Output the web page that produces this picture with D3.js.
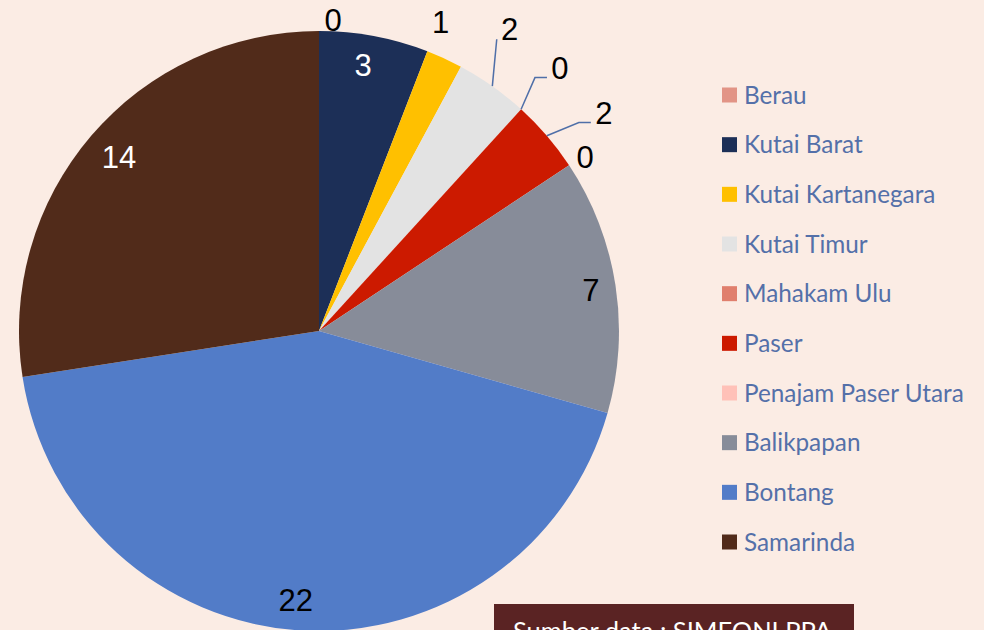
<!DOCTYPE html>
<html>
<head>
<meta charset="utf-8">
<script src="https://cdn.jsdelivr.net/npm/d3@7"></script>
<style>
  html, body { margin: 0; padding: 0; background: #fbece4; }
  svg { display: block; }
</style>
</head>
<body>
<div id="chart"></div>
<script>
// data
const regions = ["Berau", "Kutai Barat", "Kutai Kartanegara", "Kutai Timur", "Mahakam Ulu",
  "Paser", "Penajam Paser Utara", "Balikpapan", "Bontang", "Samarinda"];
const cases = [0, 3, 1, 2, 0, 2, 0, 7, 22, 14];
const colors = ["#e29486", "#1c2f57", "#ffc000", "#e3e3e3", "#e07f6d",
  "#cc1a00", "#ffc1b8", "#878c99", "#527cc8", "#512b1a"];
const sourceText = "Sumber data : SIMFONI PPA";

const width = 984, height = 630;
const cx = 319, cy = 331, R = 300;

// label placement (radius, angle nudge in degrees), inside labels white
const labelLayout = [
  { r: 311, da: 2.6, fill: "#000" },
  { r: 270, da: -1.2, fill: "#fff" },
  { r: 332, da: -3.2, fill: "#000" },
  { r: 357, da: -3, fill: "#000", leader: "straight" },
  { r: 357, da: 0.1, fill: "#000", leader: "elbow" },
  { r: 359, da: 3.1, fill: "#000", leader: "elbow" },
  { r: 318, da: 0.3, fill: "#000" },
  { r: 275, da: 0.2, fill: "#000" },
  { r: 270, da: 1.4, fill: "#000" },
  { r: 265, da: 0.4, fill: "#fff" }
];

const svg = d3.select("#chart").append("svg")
  .attr("width", width)
  .attr("height", height);

svg.append("rect").attr("width", width).attr("height", height).attr("fill", "#fbece4");

const pie = d3.pie().sort(null).value(d => d)(cases);
const arc = d3.arc().innerRadius(0).outerRadius(R);

const g = svg.append("g").attr("transform", `translate(${cx},${cy})`);

g.selectAll("path.slice")
  .data(pie)
  .join("path")
  .attr("class", "slice")
  .attr("d", arc)
  .attr("fill", (d, i) => colors[i]);

const polar = (r, a) => [r * Math.sin(a), -r * Math.cos(a)];

// leader lines
pie.forEach((d, i) => {
  const lay = labelLayout[i];
  if (!lay.leader) return;
  const mid = (d.startAngle + d.endAngle) / 2;
  const start = polar(R, mid);
  const lp = polar(lay.r, mid + lay.da * Math.PI / 180);
  const end = [lp[0] - 13, lp[1] + 10];
  const pts = lay.leader === "elbow" ? [start, [end[0] - 12, end[1]], end] : [start, end];
  g.append("path")
    .attr("d", d3.line()(pts))
    .attr("fill", "none")
    .attr("stroke", "#4f6fa8")
    .attr("stroke-width", 1.5);
});

// value labels
g.selectAll("text.val")
  .data(pie)
  .join("text")
  .attr("class", "val")
  .attr("transform", (d, i) => {
    const lay = labelLayout[i];
    const mid = (d.startAngle + d.endAngle) / 2;
    const p = polar(lay.r, mid + lay.da * Math.PI / 180);
    return `translate(${p[0]},${p[1]})`;
  })
  .attr("text-anchor", "middle")
  .attr("dy", "0.36em")
  .attr("fill", (d, i) => labelLayout[i].fill)
  .style("font-family", "'Liberation Sans', Arial, sans-serif")
  .style("font-size", "31px")
  .text(d => d.data);

// legend
const legendY = d3.scalePoint().domain(regions).range([95, 542]);
const legend = svg.append("g").selectAll("g")
  .data(regions)
  .join("g")
  .attr("transform", d => `translate(722,${legendY(d)})`);

legend.append("rect")
  .attr("x", 0).attr("y", -7.5)
  .attr("width", 15).attr("height", 15)
  .attr("fill", (d, i) => colors[i]);

legend.append("text")
  .attr("x", 22)
  .attr("dy", "0.36em")
  .attr("fill", "#5470a9")
  .style("font-family", "Lato, 'Open Sans', sans-serif")
  .style("font-size", "24.3px")
  .text(d => d);

// source box
svg.append("rect")
  .attr("x", 494).attr("y", 604)
  .attr("width", 360).attr("height", 40)
  .attr("fill", "#5a2323");

svg.append("text")
  .attr("x", 513).attr("y", 640)
  .attr("fill", "#fff")
  .style("font-family", "Lato, 'Open Sans', sans-serif")
  .style("font-size", "25.5px")
  .text(sourceText);
</script>
</body>
</html>
